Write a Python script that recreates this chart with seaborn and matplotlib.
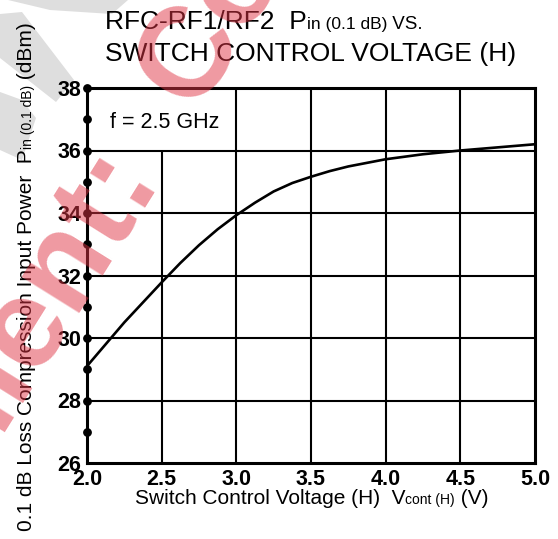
import matplotlib
matplotlib.use("Agg")
import matplotlib.pyplot as plt
import seaborn as sns
import pandas as pd
from matplotlib.patches import Polygon

# ---------------- data ----------------
voltage = [2.0, 2.25, 2.5, 2.625, 2.75, 2.875, 3.0, 3.125, 3.25, 3.375, 3.5, 3.625, 3.75,
           4.0, 4.25, 4.5, 4.75, 5.0]
p_in = [29.1, 30.5, 31.78, 32.4, 32.97, 33.48, 33.93, 34.33, 34.69, 34.96, 35.16, 35.34, 35.49,
        35.72, 35.88, 36.0, 36.1, 36.2]
x_ticks = [2.0, 2.5, 3.0, 3.5, 4.0, 4.5, 5.0]
x_tick_labels = ["2.0", "2.5", "3.0", "3.5", "4.0", "4.5", "5.0"]
y_ticks = [26, 28, 30, 32, 34, 36, 38]
y_tick_labels = ["26", "28", "30", "32", "34", "36", "38"]
y_dots = [27, 28, 29, 30, 31, 32, 33, 34, 35, 36, 37, 38]
annotation = "f = 2.5 GHz"

sns.set_theme(style="white")
plt.rcParams['font.family'] = ['Liberation Sans', 'DejaVu Sans']

W, H, DPI = 558, 539, 100
fig = plt.figure(figsize=(W / DPI, H / DPI), dpi=DPI)
fig.patch.set_facecolor("white")

def fx(px):
    return px / W

def fy(py):
    return 1 - py / H

# grey background watermark bands (behind everything)
grey = "#dedede"
for poly in [
    [(8, 0), (128, 0), (112, 14), (50, 10)],
    [(0, 14), (22, 12), (74, 80), (56, 102), (0, 58)],
    [(0, 92), (22, 100), (36, 118), (22, 160), (0, 150)],
]:
    fig.patches.append(Polygon([(fx(a), fy(b)) for a, b in poly], closed=True,
                               transform=fig.transFigure, facecolor=grey,
                               edgecolor="none", zorder=-5))

left, right, top, bottom = 87, 535, 88, 463
ax = fig.add_axes([fx(left), fy(bottom), fx(right) - fx(left), (bottom - top) / H])
ax.set_facecolor("none")
ax.set_zorder(1)

df = pd.DataFrame({"V": voltage, "P": p_in})
sns.lineplot(data=df, x="V", y="P", ax=ax, color="black", linewidth=1.9, zorder=4)

ax.set_xlim(2.0, 5.0)
ax.set_ylim(26, 38)
ax.set_xticks(x_ticks)
ax.set_xticklabels(x_tick_labels)
ax.set_yticks(y_ticks)
ax.set_yticklabels(y_tick_labels)
ax.tick_params(axis="both", length=0, labelsize=15.5, labelcolor="black")
ax.tick_params(axis="y", pad=4)
ax.tick_params(axis="x", pad=4.5)
for lab in ax.get_xticklabels() + ax.get_yticklabels():
    lab.set_fontweight("bold")
ax.set_xlabel("")
ax.set_ylabel("")

# grid lines
for yv in y_ticks[1:-1]:
    ax.axhline(yv, color="black", lw=1.5, zorder=2)
for xv in x_ticks[1:-1]:
    if xv == 2.5:
        ax.vlines(xv, 26, 36, color="black", lw=1.5, zorder=2)
    else:
        ax.axvline(xv, color="black", lw=1.5, zorder=2)

for s in ax.spines.values():
    s.set_visible(True)
    s.set_color("black")
    s.set_linewidth(2.2)

ax.scatter([2.0] * len(y_dots), y_dots, s=28, color="black", zorder=6, clip_on=False)

ax.text(2.154, 36.88, annotation, fontsize=15.5, va="center", ha="left", color="black")

# ---- multi-size text helper ----
fig.canvas.draw()
renderer = fig.canvas.get_renderer()

def pieces(x_px, y_px, parts, rotation=0, weight="normal"):
    x, y = x_px, y_px
    for txt, size in parts:
        t = fig.text(fx(x), fy(y), txt, fontsize=size, rotation=rotation,
                     rotation_mode="anchor", ha="left", va="baseline",
                     color="black", fontweight=weight, zorder=3)
        bb = t.get_window_extent(renderer)
        if rotation == 0:
            x += bb.width
        else:
            y -= bb.height

pieces(105, 29, [("RFC-RF1/RF2  P", 19), ("in (0.1 dB)", 12.5), (" VS.", 13.5)])
pieces(105, 61, [("SWITCH CONTROL VOLTAGE (H)", 19)])
pieces(135, 504, [("Switch Control Voltage (H)  V", 15), ("cont (H)", 10), (" (V)", 15)])
pieces(32, 531, [("0.1 dB Loss Compression Input Power  P", 15), ("in (0.1 dB)", 10), (" (dBm)", 15)],
       rotation=90)

# red watermark on top
wm = dict(fontsize=92, fontweight="bold", rotation=58, rotation_mode="anchor",
          ha="center", va="center", color="#e03545", alpha=0.5, zorder=10)
fig.text(fx(49), fy(286), "lient:", **wm)
fig.text(fx(212), fy(22), "Co", **wm)

fig.savefig("out.png", dpi=DPI)
